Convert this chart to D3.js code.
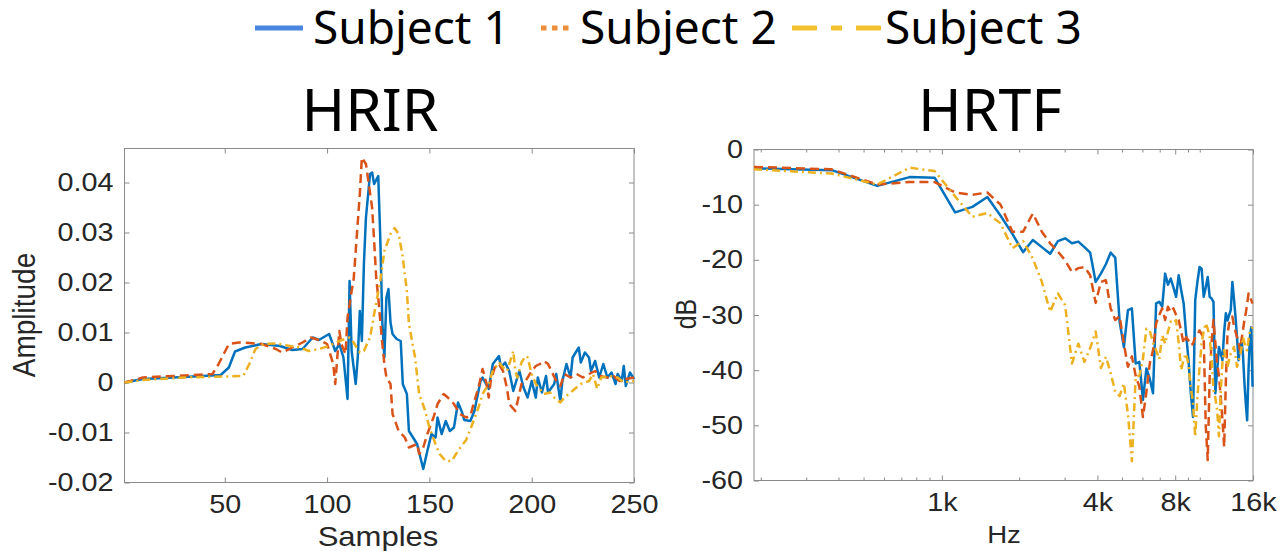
<!DOCTYPE html>
<html>
<head>
<meta charset="utf-8">
<script src="https://cdn.jsdelivr.net/npm/d3@7.9.0/dist/d3.min.js"></script>
<style>
  body { margin: 0; background: #fff; }
  svg { display: block; }
</style>
</head>
<body>
<svg id="chart" width="1280" height="551"></svg>
<script>
// ---- data ----
const subjects = ['Subject 1', 'Subject 2', 'Subject 3'];

// HRIR: sample index / amplitude
const hrir1Samples = [1,10,30,48,52,55,60,68,77,83,88,93,96,101,104,106,108,110,111,112,113,114,115,116,117,118,119,121,122,123,125,126,127,128,129,130,131,132,134,136,137,139,140,142,144,147,149,151,153,154,156,158,160,162,164,166,167,170,172,175,176,179,181,184,185,187,189,191,193,194,196,198,200,202,203,205,207,208,211,212,214,215,217,219,220,223,224,226,228,229,231,233,235,237,239,241,242,244,245,246,248,250];
const hrir1Amp = [0,0.0007,0.0011,0.0015,0.003,0.0062,0.007,0.0077,0.0073,0.0065,0.0067,0.009,0.0085,0.0097,0.0063,0.0077,0.005,-0.0033,0.0203,0.0063,0.003,-0.0003,0.005,0.0143,0.0083,0.0237,0.033,0.0417,0.042,0.0397,0.0413,0.029,0.012,0.005,0.017,0.0187,0.012,0.0097,0.0087,0.0083,-0.0003,-0.0023,-0.0097,-0.011,-0.0123,-0.0173,-0.0137,-0.0103,-0.011,-0.007,-0.0103,-0.0077,-0.0097,-0.009,-0.004,-0.006,-0.0075,-0.0077,-0.0057,0.0003,0.001,-0.0013,0.0037,0.0053,0.003,0.004,0.0023,-0.0017,0.001,0.0023,-0.001,-0.003,0.0003,-0.003,0.001,-0.002,0.0013,-0.002,-0.0003,0.0017,-0.0037,0.0003,0.0037,0.001,0.005,0.007,0.004,0.006,0.005,0.0023,0.0043,0.001,0.0037,0.001,0.002,-0.0003,0.0017,0.0003,0.0033,-0.0007,0.002,0.0007];

const hrir2Samples = [1,10,44,47,52,57,62,68,75,78,83,88,92,96,100,103,104,106,107,109,110,112,113,114,116,117,119,122,123,124,125,127,128,129,131,132,135,138,140,144,145,147,149,152,154,157,159,162,165,168,170,172,174,176,178,179,180,182,184,186,188,189,192,193,195,197,200,202,204,206,208,210,212,214,216,219,222,225,228,231,233,237,240,243,246,250];
const hrir2Amp = [0,0.001,0.0017,0.0037,0.0077,0.008,0.0079,0.0077,0.0067,0.006,0.007,0.008,0.009,0.0085,0.0077,0.0037,-0.0003,0.0103,0.0077,0.0057,0.013,0.0183,0.0207,0.0263,0.0377,0.045,0.0437,0.035,0.0283,0.021,0.017,0.0077,0.0037,0.001,-0.0003,-0.0063,-0.0097,-0.011,-0.013,-0.0123,-0.0143,-0.013,-0.0103,-0.007,-0.0043,-0.0023,-0.003,-0.0043,-0.0063,-0.007,-0.0067,-0.0037,-0.001,0.0027,-0.0003,-0.003,0.0003,0.003,0.0037,0.0023,-0.0013,-0.0043,-0.0057,-0.004,-0.0003,0.0003,0.0023,0.0033,0.0037,0.0043,0.0037,0.002,0.0003,-0.0007,0.0017,0.001,0.0017,0.001,0.0017,0.0023,0.0013,0.001,0.0013,0.0003,0.0007,0.001];

const hrir3Samples = [1,10,30,59,62,65,69,75,82,87,91,96,101,106,111,113,116,118,121,123,126,128,131,133,135,137,139,140,143,145,148,150,153,155,158,161,163,166,168,171,174,176,179,181,184,186,188,191,192,193,195,197,198,200,202,204,206,209,211,214,216,219,221,224,228,230,232,234,238,242,245,250];
const hrir3Amp = [0,0.0005,0.001,0.0013,0.0037,0.0067,0.0077,0.0078,0.0073,0.007,0.0063,0.0067,0.0073,0.0083,0.009,0.008,0.006,0.0063,0.009,0.0137,0.0203,0.0263,0.0297,0.0309,0.0297,0.025,0.0183,0.0117,0.005,-0.0023,-0.0057,-0.009,-0.0123,-0.0143,-0.0157,-0.0157,-0.0143,-0.0125,-0.0115,-0.0083,-0.005,-0.0023,-0.0003,0.0023,0.004,0.003,0.0023,0.0063,0.0023,0.001,0.004,0.0053,0.005,0.0017,-0.0003,-0.0013,-0.0023,-0.002,-0.003,-0.004,-0.003,-0.002,-0.0013,-0.0003,0.0003,0.0017,-0.0013,0.001,0.0013,0.001,0,0.0003];

// HRTF: FFT bin frequency (Hz) / magnitude (dB)
const hrtfHz = [187.5,375,562.5,750,937.5,1125,1312.5,1500,1687.5,1875,2062.5,2250,2437.5,2625,2812.5,3000,3187.5,3375,3562.5,3750,3937.5,4125,4312.5,4500,4687.5,4875,5062.5,5250,5437.5,5625,5812.5,6000,6187.5,6375,6562.5,6750,6937.5,7125,7312.5,7500,7687.5,7875,8062.5,8250,8437.5,8625,8812.5,9000,9187.5,9375,9562.5,9750,9937.5,10125,10312.5,10500,10687.5,10875,11062.5,11250,11437.5,11625,11812.5,12000,12187.5,12375,12562.5,12750,12937.5,13125,13312.5,13500,13687.5,13875,14062.5,14250,14437.5,14625,14812.5,15000,15187.5,15375,15562.5,15750,15937.5];
const hrtf1 = [-3.4,-3.75,-6.6,-5.0,-5.1,-11.4,-10.4,-8.6,-12.0,-15.3,-18.6,-16.4,-17.7,-18.9,-16.6,-16.1,-17.0,-16.7,-17.7,-18.7,-24.0,-22.5,-20.8,-18.7,-19.6,-31.2,-35.8,-29.1,-28.8,-38.8,-38.5,-45.4,-39.7,-41.5,-44.2,-27.9,-27.6,-28.5,-22.5,-24.5,-23.4,-25.0,-26.7,-22.8,-25.5,-27.9,-33.4,-38.0,-44.0,-48.5,-27.3,-24.0,-21.3,-21.6,-26.7,-25.0,-23.1,-26.7,-27.0,-27.6,-44.2,-40.0,-35.8,-37.0,-38.2,-33.0,-29.7,-31.0,-30.0,-29.1,-24.0,-27.0,-30.3,-34.0,-38.2,-36.0,-34.6,-37.0,-42.0,-46.0,-49.1,-40.0,-34.0,-32.2,-43.0];
const hrtf2 = [-3.15,-3.6,-6.35,-5.9,-5.9,-7.8,-8.2,-7.8,-10.0,-14.9,-14.9,-11.6,-14.9,-17.0,-18.5,-20.1,-22.2,-21.5,-21.3,-22.8,-27.8,-24.0,-23.7,-28.8,-30.9,-30.2,-35.2,-39.4,-37.5,-41.0,-43.0,-48.5,-44.0,-38.8,-36.4,-31.5,-30.0,-28.8,-30.9,-28.5,-29.5,-28.8,-30.0,-30.9,-33.0,-35.2,-34.0,-34.6,-35.5,-35.2,-34.0,-33.5,-32.8,-33.5,-34.0,-50.0,-56.3,-41.2,-35.0,-30.9,-35.0,-38.8,-41.0,-44.8,-49.0,-53.9,-42.0,-33.4,-31.5,-30.8,-30.3,-32.0,-33.0,-34.0,-35.0,-36.4,-34.5,-32.8,-31.0,-29.7,-28.0,-26.1,-26.8,-27.3,-27.9];
const hrtf3 = [-3.6,-4.35,-6.35,-3.3,-3.9,-8.5,-12.2,-11.5,-13.4,-17.9,-16.6,-19.8,-24.0,-29.4,-26.1,-28.2,-38.8,-35.2,-38.5,-36.0,-33.0,-39.6,-37.6,-40.5,-43.9,-44.7,-42.4,-48.0,-56.5,-41.2,-41.0,-38.0,-32.5,-32.8,-35.0,-36.4,-38.0,-33.7,-35.2,-33.0,-31.2,-31.5,-30.9,-35.0,-40.0,-38.0,-37.0,-39.0,-43.0,-46.0,-52.1,-45.0,-39.4,-35.0,-33.0,-31.5,-32.5,-34.0,-38.0,-43.6,-45.0,-47.3,-52.0,-44.0,-38.5,-36.4,-38.0,-39.4,-38.0,-37.0,-36.5,-35.8,-37.5,-39.4,-38.5,-37.6,-36.0,-34.0,-35.0,-36.0,-36.4,-34.5,-32.8,-32.5,-32.2];

// axis ticks
const hrirTicksX = [50, 100, 150, 200, 250];
const hrirTicksY = [-0.02, -0.01, 0, 0.01, 0.02, 0.03, 0.04];
const hrtfTicksY = [-60, -50, -40, -30, -20, -10, 0];
const hrtfMajorHz = [1000, 4000, 8000, 16000];
const hrtfMajorLabels = ['1k', '4k', '8k', '16k'];
const hrtfMinorHz = [200, 300, 400, 500, 600, 700, 800, 900, 2000, 3000, 5000, 6000, 7000, 9000, 10000];

// ---- styling ----
const lineColors = ['#0072BD', '#D95319', '#EDB120'];
const lineDash = [null, '9,5', '8,4,2,4'];
const legendColors = ['#4a86e0', '#ee8d3a', '#f2c230'];
const SX = 1.15;           // the figure is stretched horizontally
const axisGray = '#8a8a8a';
const labelInk = '#262626';
const sans = '"Liberation Sans", Arial, sans-serif';

const svg = d3.select('#chart');
svg.append('rect').attr('width', 1280).attr('height', 551).attr('fill', '#fff');

function stretch(sel) {
  sel.each(function () {
    const t = d3.select(this);
    const x = +t.attr('x') || 0;
    t.attr('x', null).attr('transform', `translate(${x},0) scale(${SX},1)`);
  });
}

function styleAxis(g, labels) {
  g.select('.domain').remove();
  g.selectAll('.tick line').attr('stroke', axisGray);
  g.selectAll('.tick text')
    .attr('font-family', sans).attr('font-size', 25).attr('fill', labelInk);
  if (labels) stretch(g.selectAll('.tick text'));
}

function frame(x, y, xTicks, xFmt, yTicks, yFmt) {
  const [xl, xr] = x.range();
  const [yb, yt] = y.range();
  const g = svg.append('g');
  g.append('g').attr('transform', `translate(0,${yb})`)
    .call(d3.axisBottom(x).tickValues(xTicks).tickFormat(xFmt).tickSize(-5).tickPadding(13))
    .call(s => styleAxis(s, true));
  g.append('g').attr('transform', `translate(0,${yt})`)
    .call(d3.axisTop(x).tickValues(xTicks).tickFormat('').tickSize(-5))
    .call(s => styleAxis(s, false));
  g.append('g').attr('transform', `translate(${xl},0)`)
    .call(d3.axisLeft(y).tickValues(yTicks).tickFormat(yFmt).tickSize(-5).tickPadding(11))
    .call(s => styleAxis(s, true));
  g.append('g').attr('transform', `translate(${xr},0)`)
    .call(d3.axisRight(y).tickValues(yTicks).tickFormat('').tickSize(-5))
    .call(s => styleAxis(s, false));
  g.append('rect')
    .attr('x', xl).attr('y', yt).attr('width', xr - xl).attr('height', yb - yt)
    .attr('fill', 'none').attr('stroke', axisGray).attr('stroke-width', 1);
  return g;
}

function drawSeries(xs, ys, x, y, i) {
  const pts = xs.map((v, j) => [v, ys[j]]);
  svg.append('path')
    .datum(pts)
    .attr('fill', 'none')
    .attr('stroke', lineColors[i])
    .attr('stroke-width', 2.5)
    .attr('stroke-linejoin', 'round')
    .attr('stroke-dasharray', lineDash[i])
    .attr('d', d3.line().x(d => x(d[0])).y(d => y(d[1])));
}

function axisLabel(text, x, y, size, rotate) {
  svg.append('text')
    .attr('transform', rotate
      ? `translate(${x},${y}) rotate(-90) scale(1,${SX})`
      : `translate(${x},${y}) scale(${SX},1)`)
    .attr('text-anchor', 'middle')
    .attr('font-family', sans).attr('font-size', size).attr('fill', labelInk)
    .text(text);
}

// ---- HRIR ----
const xL = d3.scaleLinear().domain([1, 250]).range([124.5, 634]);
const yL = d3.scaleLinear().domain([-0.02, 0.0468]).range([482.5, 148.5]);
frame(xL, yL, hrirTicksX, d3.format('d'), hrirTicksY, d => d === 0 ? '0' : d.toFixed(2));
[[hrir1Samples, hrir1Amp], [hrir2Samples, hrir2Amp], [hrir3Samples, hrir3Amp]]
  .forEach(([xs, ys], i) => drawSeries(xs, ys, xL, yL, i));
axisLabel('Samples', 378, 546, 27, false);
axisLabel('Amplitude', 35, 315, 28, true);

// ---- HRTF ----
const xR = d3.scaleLog().domain([187.5, 16000]).range([754, 1253]);
const yR = d3.scaleLinear().domain([-60, 0]).range([480.5, 149.5]);
const fr = frame(xR, yR, hrtfMajorHz, (d, i) => hrtfMajorLabels[i], hrtfTicksY, d => String(d));
[yR.range()[0], yR.range()[1]].forEach((yy, k) => {
  fr.append('g').selectAll('line').data(hrtfMinorHz).join('line')
    .attr('x1', d => xR(d)).attr('x2', d => xR(d))
    .attr('y1', yy).attr('y2', k === 0 ? yy - 3 : yy + 3)
    .attr('stroke', axisGray);
});
[hrtf1, hrtf2, hrtf3].forEach((ys, i) => drawSeries(hrtfHz, ys, xR, yR, i));
axisLabel('Hz', 1004, 543, 24, false);
axisLabel('dB', 696, 314, 25, true);

// ---- titles ----
const titleFont = '"Noto Sans", "Open Sans", sans-serif';
svg.append('text').attr('x', 370).attr('y', 131).attr('text-anchor', 'middle')
  .attr('font-family', titleFont).attr('font-size', 59).attr('fill', '#000').text('HRIR');
svg.append('text').attr('x', 990).attr('y', 131).attr('text-anchor', 'middle')
  .attr('font-family', titleFont).attr('font-size', 59).attr('fill', '#000').text('HRTF');

// ---- legend ----
const legendItems = [
  { x1: 255, x2: 303, tx: 313, dash: null },
  { x1: 541, x2: 569, tx: 580, dash: '5.5,5.5' },
  { x1: 792, x2: 881, tx: 885, dash: '25,14,11,14,25' }
];
const legend = svg.append('g');
legendItems.forEach((it, i) => {
  legend.append('line')
    .attr('x1', it.x1).attr('x2', it.x2).attr('y1', 28).attr('y2', 28)
    .attr('stroke', legendColors[i]).attr('stroke-width', 5)
    .attr('stroke-dasharray', it.dash);
  legend.append('text')
    .attr('x', it.tx).attr('y', 44)
    .attr('font-family', titleFont).attr('font-size', 46).attr('fill', '#000')
    .text(subjects[i]);
});
</script>
</body>
</html>
